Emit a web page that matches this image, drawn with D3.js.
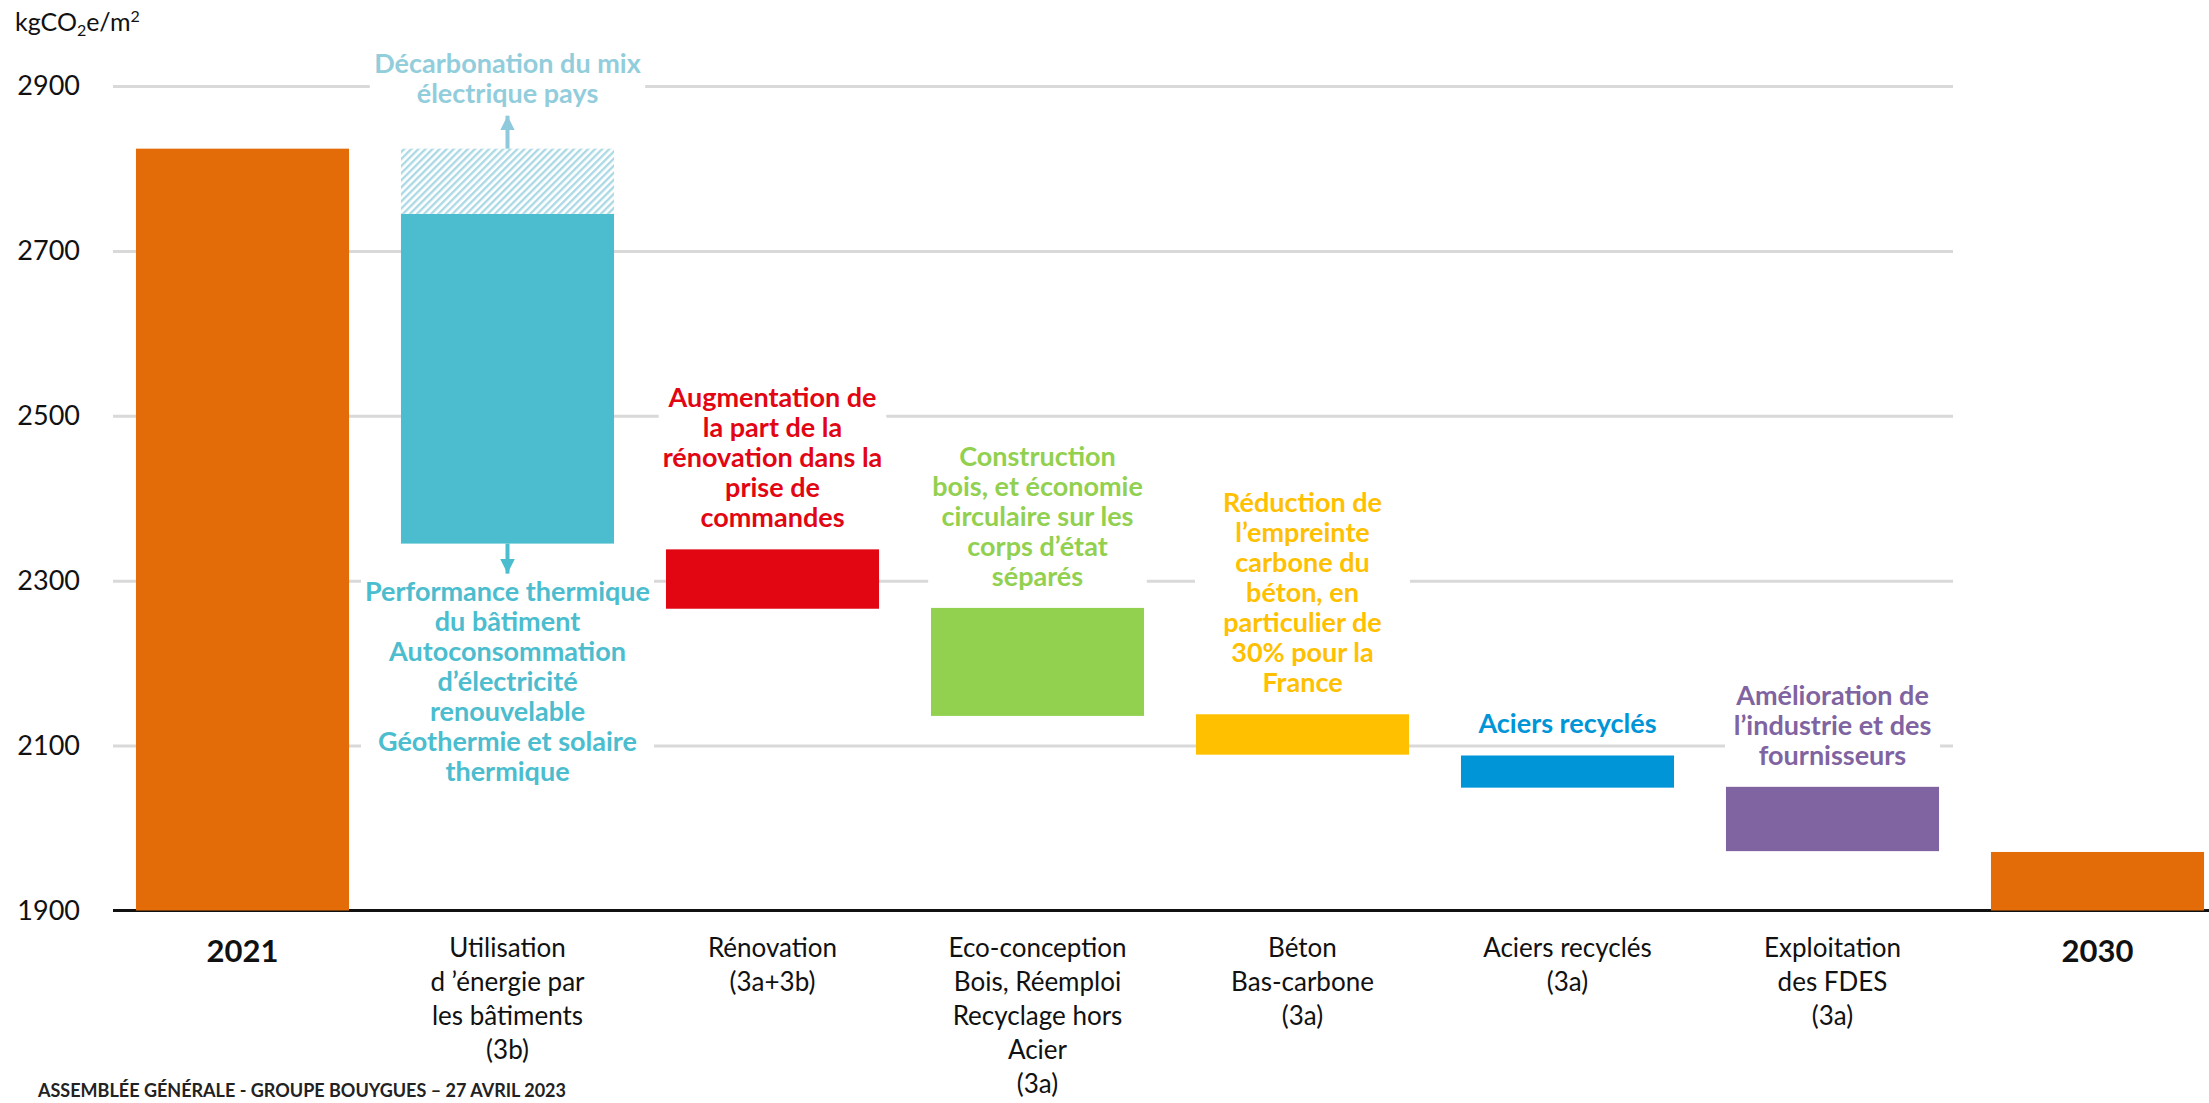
<!DOCTYPE html>
<html>
<head>
<meta charset="utf-8">
<script src="https://cdnjs.cloudflare.com/ajax/libs/d3/7.8.5/d3.min.js"></script>
<style>
  body { margin: 0; background: #fff; }
  svg { display: block; font-family: Lato, "Open Sans", sans-serif; }
</style>
</head>
<body>
<svg id="chart"></svg>
<script>
// data
const categories = ['2021', 'energie', 'renovation', 'ecoconception', 'beton', 'aciers', 'fdes', '2030'];
const categoryLabels = [
  ['2021'],
  ['Utilisation', 'd \u2019énergie par', 'les bâtiments', '(3b)'],
  ['Rénovation', '(3a+3b)'],
  ['Eco-conception', 'Bois, Réemploi', 'Recyclage hors', 'Acier', '(3a)'],
  ['Béton', 'Bas-carbone', '(3a)'],
  ['Aciers recyclés', '(3a)'],
  ['Exploitation', 'des FDES', '(3a)'],
  ['2030']
];
const barHigh = [2824, 2745, 2338, 2267, 2138, 2088, 2050, 1971];
const barLow  = [1900, 2345, 2266, 2136, 2089, 2049, 1972, 1900];
const barColors = ['#e36c09', '#4bbdce', '#e20613', '#92d050', '#ffc000', '#0095d7', '#8064a1', '#e36c09'];
// hatched part on top of the energy bar (décarbonation du mix)
const hatchLow = [2745];
const hatchHigh = [2824];
const yTicks = [1900, 2100, 2300, 2500, 2700, 2900];

const annotations = [
  { cat: 'energie', where: 'hatch', color: '#92cddc',
    lines: ['Décarbonation du mix', 'électrique pays'] },
  { cat: 'energie', where: 'below', color: '#4bbdce',
    lines: ['Performance thermique', 'du bâtiment', 'Autoconsommation', 'd\u2019électricité', 'renouvelable', 'Géothermie et solaire', 'thermique'] },
  { cat: 'renovation', where: 'above', color: '#e20613',
    lines: ['Augmentation de', 'la part de la', 'rénovation dans la', 'prise de', 'commandes'] },
  { cat: 'ecoconception', where: 'above', color: '#92d050',
    lines: ['Construction', 'bois, et économie', 'circulaire sur les', 'corps d\u2019état', 'séparés'] },
  { cat: 'beton', where: 'above', color: '#ffc000',
    lines: ['Réduction de', 'l\u2019empreinte', 'carbone du', 'béton, en', 'particulier de', '30% pour la', 'France'] },
  { cat: 'aciers', where: 'above', color: '#0095d7',
    lines: ['Aciers recyclés'] },
  { cat: 'fdes', where: 'above', color: '#8064a1',
    lines: ['Amélioration de', 'l\u2019industrie et des', 'fournisseurs'] }
];

const width = 2209, height = 1103;
const svg = d3.select('#chart').attr('width', width).attr('height', height);

const x = d3.scaleBand()
  .domain(categories)
  .range([110, 2230])
  .paddingInner(0.196)
  .paddingOuter(0.098);

const y = d3.scaleLinear()
  .domain([1900, 2900])
  .range([910.5, 86]);

// hatch pattern
const defs = svg.append('defs');
const pat = defs.append('pattern')
  .attr('id', 'hatch')
  .attr('patternUnits', 'userSpaceOnUse')
  .attr('width', 5).attr('height', 5)
  .attr('patternTransform', 'rotate(45)');
pat.append('rect').attr('width', 5).attr('height', 5).attr('fill', '#fff');
pat.append('line')
  .attr('x1', 1.2).attr('y1', 0).attr('x2', 1.2).attr('y2', 5)
  .attr('stroke', '#a9d8e4').attr('stroke-width', 2.3);

const arrow = (id, color) => {
  defs.append('marker')
    .attr('id', id)
    .attr('viewBox', '0 0 10 10')
    .attr('refX', 10).attr('refY', 5)
    .attr('markerWidth', 3.7).attr('markerHeight', 3.7)
    .attr('markerUnits', 'strokeWidth')
    .attr('orient', 'auto')
    .append('path')
    .attr('d', 'M0,0 L10,5 L0,10 Z')
    .attr('fill', color);
};
arrow('arrUp', '#8ecadb');
arrow('arrDown', '#4bbdce');

// gridlines
const grid = svg.append('g')
  .attr('transform', 'translate(113,0)')
  .call(d3.axisRight(y).tickValues(yTicks.filter(d => d > 1900)).tickSize(1953 - 113).tickFormat(''));
grid.select('.domain').remove();
grid.selectAll('line').attr('stroke', '#d9d9d9').attr('stroke-width', 3);

// y tick labels
const yAxis = svg.append('g')
  .attr('transform', 'translate(88,0)')
  .call(d3.axisLeft(y).tickValues(yTicks).tickSize(0).tickPadding(8).tickFormat(d3.format('d')));
yAxis.select('.domain').remove();
yAxis.selectAll('text')
  .attr('font-family', 'Lato, sans-serif')
  .attr('font-size', 27)
  .attr('fill', '#111');

// unit
const unit = svg.append('text')
  .attr('x', 15).attr('y', 31)
  .attr('font-size', 25).attr('fill', '#111');
unit.append('tspan').text('kgCO');
unit.append('tspan').text('2').attr('font-size', 16).attr('dy', 5);
unit.append('tspan').text('e/m').attr('dy', -5);
unit.append('tspan').text('2').attr('font-size', 16).attr('dy', -9);

// baseline (1900)
svg.append('line')
  .attr('x1', 113).attr('x2', width)
  .attr('y1', y(1900)).attr('y2', y(1900))
  .attr('stroke', '#111').attr('stroke-width', 3);

// annotation boxes (white, they cut the gridlines) + text
annotations.forEach(a => {
  const i = categories.indexOf(a.cat);
  const cx = x(a.cat) + x.bandwidth() / 2;
  const lh = 30;
  let first;
  if (a.where === 'above') first = y(barHigh[i]) - 22 - (a.lines.length - 1) * lh;
  else if (a.where === 'below') first = y(barLow[i]) + 57;
  else first = y(hatchHigh[0]) - 46 - (a.lines.length - 1) * lh;

  const g = svg.append('g');
  const box = g.append('rect').attr('fill', '#fff');
  const t = g.append('text')
    .attr('text-anchor', 'middle')
    .attr('font-weight', 'bold')
    .attr('font-size', 27)
    .attr('fill', a.color);
  t.selectAll('tspan')
    .data(a.lines)
    .join('tspan')
    .attr('x', cx)
    .attr('y', (d, k) => first + k * lh)
    .text(d => d);
  const bb = t.node().getBBox();
  const w = Math.max(bb.width + 8, x.bandwidth() + 2);
  box.attr('x', cx - w / 2).attr('y', bb.y - 3)
    .attr('width', w).attr('height', bb.height + 6);
});

// bars
svg.append('g')
  .selectAll('rect')
  .data(categories)
  .join('rect')
  .attr('x', d => x(d))
  .attr('width', x.bandwidth())
  .attr('y', (d, i) => y(barHigh[i]))
  .attr('height', (d, i) => y(barLow[i]) - y(barHigh[i]))
  .attr('fill', (d, i) => barColors[i]);

// hatched part
svg.append('rect')
  .attr('x', x('energie'))
  .attr('width', x.bandwidth())
  .attr('y', y(hatchHigh[0]))
  .attr('height', y(hatchLow[0]) - y(hatchHigh[0]))
  .attr('fill', 'url(#hatch)');

// arrows
const ex = x('energie') + x.bandwidth() / 2;
svg.append('line')
  .attr('x1', ex).attr('x2', ex)
  .attr('y1', y(hatchHigh[0])).attr('y2', y(hatchHigh[0]) - 33)
  .attr('stroke', '#8ecadb').attr('stroke-width', 4)
  .attr('marker-end', 'url(#arrUp)');
svg.append('line')
  .attr('x1', ex).attr('x2', ex)
  .attr('y1', y(barLow[1])).attr('y2', y(barLow[1]) + 30)
  .attr('stroke', '#4bbdce').attr('stroke-width', 4)
  .attr('marker-end', 'url(#arrDown)');

// category labels under the axis
const bottom = svg.append('g');
categoryLabels.forEach((lines, i) => {
  const cx = x(categories[i]) + x.bandwidth() / 2;
  const bold = i === 0 || i === categories.length - 1;
  const t = bottom.append('text')
    .attr('text-anchor', 'middle')
    .attr('fill', '#111')
    .attr('font-size', bold ? 31 : 26)
    .attr('font-weight', bold ? 'bold' : 'normal');
  t.selectAll('tspan')
    .data(lines)
    .join('tspan')
    .attr('x', cx)
    .attr('y', (d, k) => (bold ? 962 : 957) + k * 34)
    .text(d => d);
});

// footer of the slide, at the bottom edge
svg.append('text')
  .attr('x', 38).attr('y', 1097)
  .attr('font-size', 18).attr('font-weight', 'bold')
  .attr('fill', '#222')
  .text('ASSEMBLÉE GÉNÉRALE - GROUPE BOUYGUES \u2013 27 AVRIL 2023');
</script>
</body>
</html>
